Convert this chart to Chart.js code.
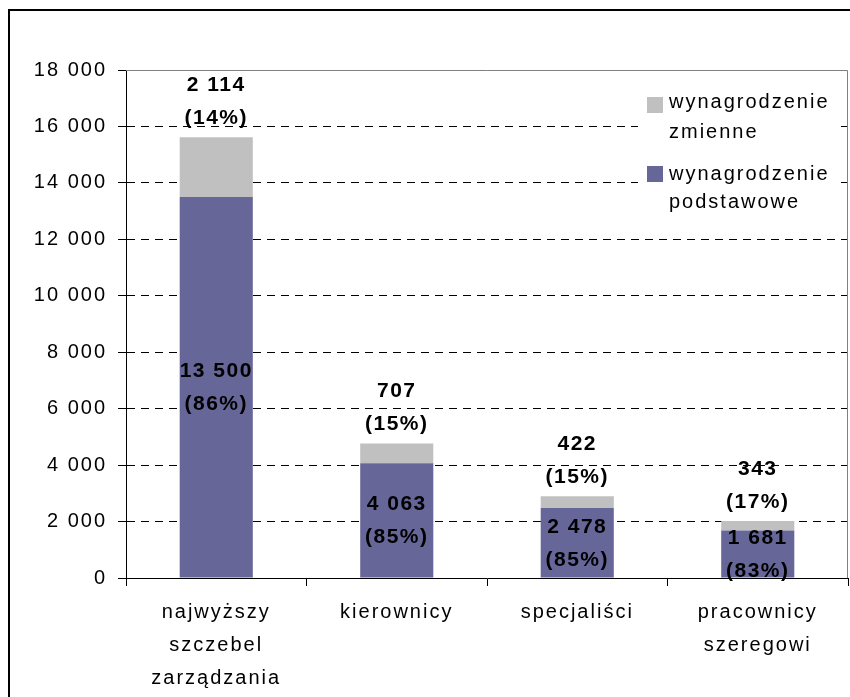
<!DOCTYPE html>
<html><head><meta charset="utf-8">
<script src="https://cdn.jsdelivr.net/npm/chart.js@4/dist/chart.umd.min.js"></script>
<style>html,body{margin:0;padding:0;background:#fff}#wrap{width:850px;height:697px;position:relative}</style>
</head><body><div id="wrap"><canvas id="c" width="850" height="697"></canvas></div>
<script>
const categories = [['najwyższy','szczebel','zarządzania'], 'kierownicy', 'specjaliści', ['pracownicy','szeregowi']];
const baseSalary = [13500, 4063, 2478, 1681];
const variablePay = [2114, 707, 422, 343];
const seriesBase = 'wynagrodzenie podstawowe';
const seriesVariable = 'wynagrodzenie zmienne';
const legendVariable = ['wynagrodzenie', 'zmienne'];
const legendBase = ['wynagrodzenie', 'podstawowe'];
const yMin = 0, yMax = 18000, yStep = 2000;

const COLOR_BASE = '#666699';
const COLOR_VAR = '#C0C0C0';
const FONT = "'Liberation Sans', Arial, sans-serif";

function fmt(v){ return String(v).replace(/\B(?=(\d{3})+(?!\d))/g, ' '); }

const deco = {
  id: 'deco',
  beforeDraw(chart){
    const ctx = chart.ctx;
    ctx.save();
    ctx.fillStyle = '#fff';
    ctx.fillRect(0, 0, chart.width, chart.height);
    ctx.strokeStyle = '#000';
    ctx.lineWidth = 2;
    ctx.beginPath();
    ctx.moveTo(9, chart.height); ctx.lineTo(9, 10); ctx.lineTo(chart.width, 10);
    ctx.stroke();
    ctx.restore();
    ctx.letterSpacing = '2px';
  },
  beforeDatasetsDraw(chart){
    const {ctx, chartArea: a} = chart;
    ctx.save();
    ctx.strokeStyle = '#808080';
    ctx.lineWidth = 1;
    ctx.beginPath();
    ctx.moveTo(a.left, a.top + 0.5);
    ctx.lineTo(a.right - 0.5, a.top + 0.5);
    ctx.lineTo(a.right - 0.5, a.bottom);
    ctx.stroke();
    ctx.restore();
  },
  afterDatasetsDraw(chart){
    const ctx = chart.ctx;
    const mBase = chart.getDatasetMeta(0).data;
    const mVar = chart.getDatasetMeta(1).data;
    ctx.save();
    ctx.letterSpacing = '1.5px';
    ctx.fillStyle = '#000';
    ctx.font = 'bold 21px ' + FONT;
    ctx.textAlign = 'center';
    ctx.textBaseline = 'middle';
    for (let i = 0; i < baseSalary.length; i++) {
      const total = baseSalary[i] + variablePay[i];
      const pb = Math.round(baseSalary[i] / total * 100);
      const pv = Math.round(variablePay[i] / total * 100);
      const b = mBase[i], v = mVar[i];
      const cy = (b.y + b.base) / 2;
      ctx.fillText(fmt(baseSalary[i]), b.x, cy - 16);
      ctx.fillText('(' + pb + '%)', b.x, cy + 17);
      const top = v.y;
      ctx.fillText(fmt(variablePay[i]), v.x, top - 52);
      ctx.fillText('(' + pv + '%)', v.x, top - 19);
    }
    ctx.restore();
  },
  afterDraw(chart){
    const ctx = chart.ctx;
    ctx.save();
    ctx.fillStyle = '#fff';
    ctx.fillRect(638, 86, 203, 132);
    ctx.fillStyle = COLOR_VAR;
    ctx.fillRect(647, 97, 16, 16);
    ctx.fillStyle = COLOR_BASE;
    ctx.fillRect(647, 166, 16, 16);
    ctx.fillStyle = '#000';
    ctx.letterSpacing = '2px';
    ctx.font = '20px ' + FONT;
    ctx.textAlign = 'left';
    ctx.textBaseline = 'alphabetic';
    ctx.fillText(legendVariable[0], 669, 108);
    ctx.fillText(legendVariable[1], 669, 138);
    ctx.fillText(legendBase[0], 669, 180);
    ctx.fillText(legendBase[1], 669, 208);
    ctx.restore();
  }
};

new Chart(document.getElementById('c'), {
  type: 'bar',
  data: {
    labels: categories,
    datasets: [
      { label: seriesBase, data: baseSalary, backgroundColor: COLOR_BASE, borderWidth: 0 },
      { label: seriesVariable, data: variablePay, backgroundColor: COLOR_VAR, borderWidth: 0 }
    ]
  },
  options: {
    responsive: false,
    animation: false,
    devicePixelRatio: 1,
    layout: { padding: { left: 0, top: 70, right: 2, bottom: 0 } },
    datasets: { bar: { barPercentage: 0.405, categoryPercentage: 1 } },
    plugins: { legend: { display: false }, tooltip: { enabled: false }, title: { display: false } },
    scales: {
      x: {
        stacked: true,
        offset: true,
        grid: { display: true, drawOnChartArea: false, drawTicks: true, tickLength: 8, color: '#000', tickColor: '#000', offset: true },
        border: { display: true, color: '#000', width: 1 },
        ticks: { color: '#000', font: { family: FONT, size: 20, lineHeight: '33px' }, padding: 10, maxRotation: 0, autoSkip: false },
        afterFit(s){ s.height = 119; }
      },
      y: {
        stacked: true,
        min: yMin, max: yMax,
        grid: {
          drawOnChartArea: true, drawTicks: true, tickLength: 8, tickColor: '#000',
          color: (c) => (c.tick && (c.tick.value === yMin || c.tick.value === yMax)) ? 'rgba(0,0,0,0)' : '#000',
          lineWidth: 1
        },
        border: { display: true, color: '#000', width: 1, dash: [8, 6] },
        ticks: { stepSize: yStep, color: '#000', font: { family: FONT, size: 20 }, padding: 11, callback: (v) => fmt(v) },
        afterFit(s){ s.width = 126; }
      }
    }
  },
  plugins: [deco]
});
</script>
</body></html>
